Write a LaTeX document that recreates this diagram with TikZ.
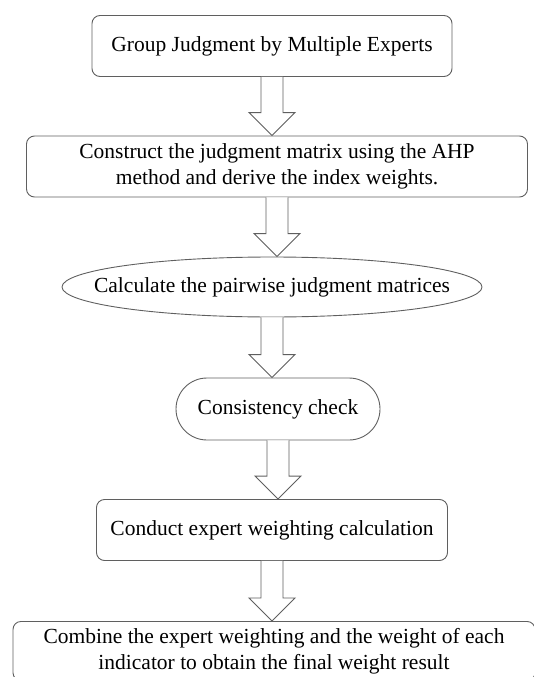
\documentclass[tikz,border=0pt]{standalone}
\usepackage{fontspec}
\setmainfont{Liberation Serif}
\usepackage{tikz}
\usetikzlibrary{calc,shapes.geometric,shapes.misc}
\definecolor{linegray}{RGB}{95,95,95}
\newcommand{\hollowarrow}[2]{%
  \draw[hollow] ($(#1.south)+(-11,0)$) -- ($(#1.south |- #2.north)+(-11,-23)$)
    -- ($(#1.south |- #2.north)+(-23,-23)$) -- (#1.south |- #2.north)
    -- ($(#1.south |- #2.north)+(23,-23)$) -- ($(#1.south |- #2.north)+(11,-23)$)
    -- ($(#1.south)+(11,0)$);}

\begin{document}
\begin{tikzpicture}[x=1pt,y=-1pt,line width=0.9pt,
  box/.style={draw=linegray,rounded corners=8pt,align=center,
    minimum height=61pt,inner sep=0pt,font=\fontsize{21.5}{26.5}\selectfont},
  oval/.style={draw=linegray,ellipse,align=center,inner xsep=-34pt,inner ysep=0pt,
    minimum width=420pt,minimum height=60pt,font=\fontsize{21.5}{26.5}\selectfont},
  pill/.style={draw=linegray,rounded rectangle,align=center,inner sep=0pt,
    minimum width=204pt,minimum height=62pt,font=\fontsize{21.5}{26.5}\selectfont},
  hollow/.style={draw=linegray,fill=white,line join=miter}]

  \useasboundingbox (0,0) rectangle (534,677);
  \clip (0,0) rectangle (534,677);

  \node[box,minimum width=360pt] (experts) at (272,46)
    {Group Judgment by Multiple Experts};
  \node[box,minimum width=501pt] (ahp) at (277,166.5)
    {Construct the judgment matrix using the AHP\\method and derive the index weights.};
  \node[oval] (pairwise) at (272,287)
    {Calculate the pairwise judgment matrices};
  \node[pill] (check) at (278,409)
    {Consistency check};
  \node[box,minimum width=351pt] (weighting) at (272,530)
    {Conduct expert weighting calculation};
  \node[box,anchor=north,minimum width=522pt,inner ysep=7pt,minimum height=0pt,
    font=\fontsize{21.5}{25.5}\selectfont] (result) at (274,621)
    {Combine the expert weighting and the weight of each\\indicator to obtain the final weight result};

  \hollowarrow{experts}{ahp}
  \hollowarrow{ahp}{pairwise}
  \hollowarrow{pairwise}{check}
  \hollowarrow{check}{weighting}
  \hollowarrow{weighting}{result}

\end{tikzpicture}
\end{document}
